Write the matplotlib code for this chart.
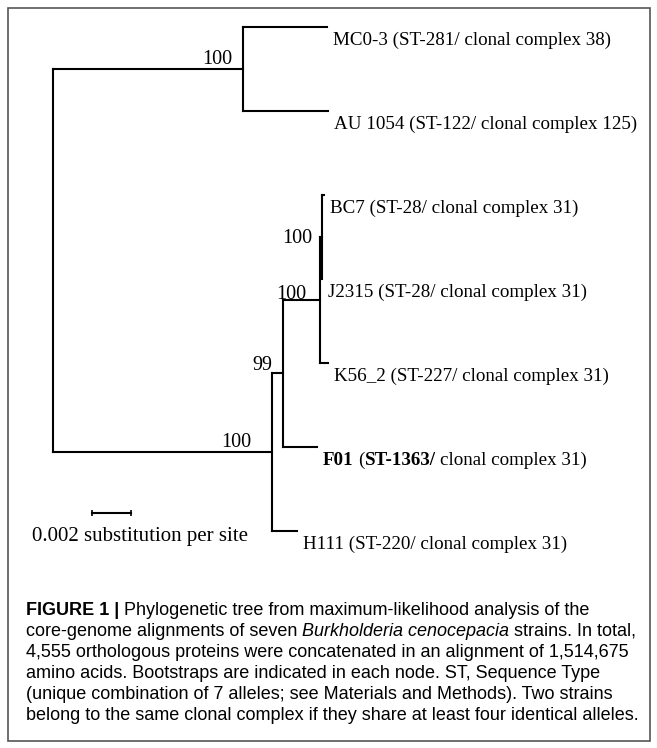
import matplotlib
matplotlib.use("Agg")
import matplotlib.pyplot as plt
from matplotlib.patches import Rectangle
from matplotlib.transforms import IdentityTransform

# ---- data -------------------------------------------------------------
tips = ["MC0-3", "AU 1054", "BC7", "J2315", "K56_2", "F01", "H111"]
tip_st = ["ST-281", "ST-122", "ST-28", "ST-28", "ST-227", "ST-1363", "ST-220"]
tip_cc = ["38", "125", "31", "31", "31", "31", "31"]
bold_tip = "F01"

# edges of the ML tree (branch lengths in substitutions per site)
edge_parent = ["root", "n1", "n1", "root", "n2", "n3", "n4", "n5", "n5", "n4", "n3", "n2"]
edge_child = ["n1", "MC0-3", "AU 1054", "n2", "n3", "n4", "n5", "BC7", "J2315", "K56_2", "F01", "H111"]
edge_len = [0.00974, 0.00431, 0.00436, 0.01123, 0.00056, 0.00190, 0.00008,
            0.00013, 0.00003, 0.00041, 0.00174, 0.00128]

boot_node = ["n1", "n2", "n3", "n4", "n5"]
boot_value = ["100", "100", "99", "100", "100"]

scale_len = 0.002
scale_label = "0.002 substitution per site"

caption = [
    [("FIGURE 1 |", "bold", "normal"), (" Phylogenetic tree from maximum-likelihood analysis of the", "normal", "normal")],
    [("core-genome alignments of seven", "normal", "normal"), (" Burkholderia cenocepacia", "normal", "italic"),
     (" strains. In total,", "normal", "normal")],
    [("4,555 orthologous proteins were concatenated in an alignment of 1,514,675", "normal", "normal")],
    [("amino acids. Bootstraps are indicated in each node. ST, Sequence Type", "normal", "normal")],
    [("(unique combination of 7 alleles; see Materials and Methods). Two strains", "normal", "normal")],
    [("belong to the same clonal complex if they share at least four identical alleles.", "normal", "normal")],
]

# ---- layout -------------------------------------------------------------
W, H, DPI = 657, 748, 100
PX_PER_UNIT = 19500.0
SERIF = "Liberation Serif"
SANS = "Liberation Sans"

fig = plt.figure(figsize=(W / DPI, H / DPI), dpi=DPI)
fig.patch.set_facecolor("white")

# full-figure overlay in pixel coordinates (border + caption)
over = fig.add_axes([0, 0, 1, 1])
over.set_xlim(0, W)
over.set_ylim(H, 0)
over.axis("off")
over.add_patch(Rectangle((8, 8), 642, 733, fill=False, edgecolor="#555555", lw=1.2))

# tree axes: x = distance from root, y = tip index
tx0, ty0, ty1 = 53, 27, 531
ax = fig.add_axes([tx0 / W, 1 - ty1 / H, (W - tx0 - 4) / W, (ty1 - ty0) / H])
ax.set_xlim(0, (W - tx0 - 4) / PX_PER_UNIT)
ax.set_ylim(len(tips) - 1, 0)
ax.axis("off")

# node coordinates
children = {}
for p, c, l in zip(edge_parent, edge_child, edge_len):
    children.setdefault(p, []).append((c, l))
xpos, ypos = {"root": 0.0}, {}


def place(node):
    for c, l in children.get(node, []):
        xpos[c] = xpos[node] + l
        place(c)
    if node in tips:
        ypos[node] = tips.index(node)
    else:
        ys = [ypos[c] for c, _ in children[node]]
        ypos[node] = (min(ys) + max(ys)) / 2


place("root")

lw = 1.5
for node, kids in children.items():
    ys = [ypos[c] for c, _ in kids]
    ax.plot([xpos[node], xpos[node]], [min(ys), max(ys)], color="black", lw=lw,
            solid_capstyle="projecting", clip_on=False)
for p, c in zip(edge_parent, edge_child):
    ax.plot([xpos[p], xpos[c]], [ypos[c], ypos[c]], color="black", lw=lw,
            solid_capstyle="projecting", clip_on=False)

renderer = fig.canvas.get_renderer()


def space_width(size, family, weight, style):
    kw = dict(fontsize=size, family=family, weight=weight, style=style)
    a = fig.text(0, 0, "x x", **kw)
    b = fig.text(0, 0, "xx", **kw)
    w = a.get_window_extent(renderer).width - b.get_window_extent(renderer).width
    a.remove()
    b.remove()
    return w


def draw_runs(x, y, runs, size, family, va="baseline"):
    # x, y in display pixels (origin bottom left)
    for s, weight, style in runs:
        if s.startswith(" "):
            x += space_width(size, family, weight, style)
            s = s[1:]
        t = fig.text(x, y, s, transform=IdentityTransform(), fontsize=size, family=family,
                     weight=weight, style=style, va=va, ha="left")
        x += t.get_window_extent(renderer).width


# tip labels
tip_size = 13.7
for name, st, cc in zip(tips, tip_st, tip_cc):
    dx, dy = ax.transData.transform((xpos[name], ypos[name]))
    if name == bold_tip:
        runs = [(name, "bold", "normal"), (" (", "normal", "normal"), (st + "/", "bold", "normal"),
                (" clonal complex " + cc + ")", "normal", "normal")]
    else:
        runs = [(name + " (" + st + "/ clonal complex " + cc + ")", "normal", "normal")]
    draw_runs(dx + 6, dy - 5, runs, tip_size, SERIF, va="top")

# bootstrap values (offsets in pixels from the node)
boot_offset = [(-11, 5), (-21, 5), (-11, 3), (-14, 1), (-9, -6)]
for node, val, (ox, oy) in zip(boot_node, boot_value, boot_offset):
    ax.annotate(val, (xpos[node], ypos[node]), xytext=(ox, oy), textcoords="offset pixels",
                ha="right", va="baseline", fontsize=14.5, family=SERIF, annotation_clip=False)

# scale bar
sb_y = (513 - ty0) / 84.0
sb_x0 = (92 - tx0) / PX_PER_UNIT
ax.plot([sb_x0, sb_x0 + scale_len], [sb_y, sb_y], color="black", lw=1.5,
        marker="|", markersize=5, markeredgewidth=1.2, clip_on=False)
ax.annotate(scale_label, (sb_x0 + scale_len / 2, sb_y), xytext=(28, -28),
            textcoords="offset pixels", ha="center", va="baseline", fontsize=15,
            family=SERIF, annotation_clip=False)

# caption
cap_size = 13.0
for i, line in enumerate(caption):
    draw_runs(26, H - (615 + 21 * i), line, cap_size, SANS)

fig.savefig("out.png", dpi=DPI, facecolor="white")
